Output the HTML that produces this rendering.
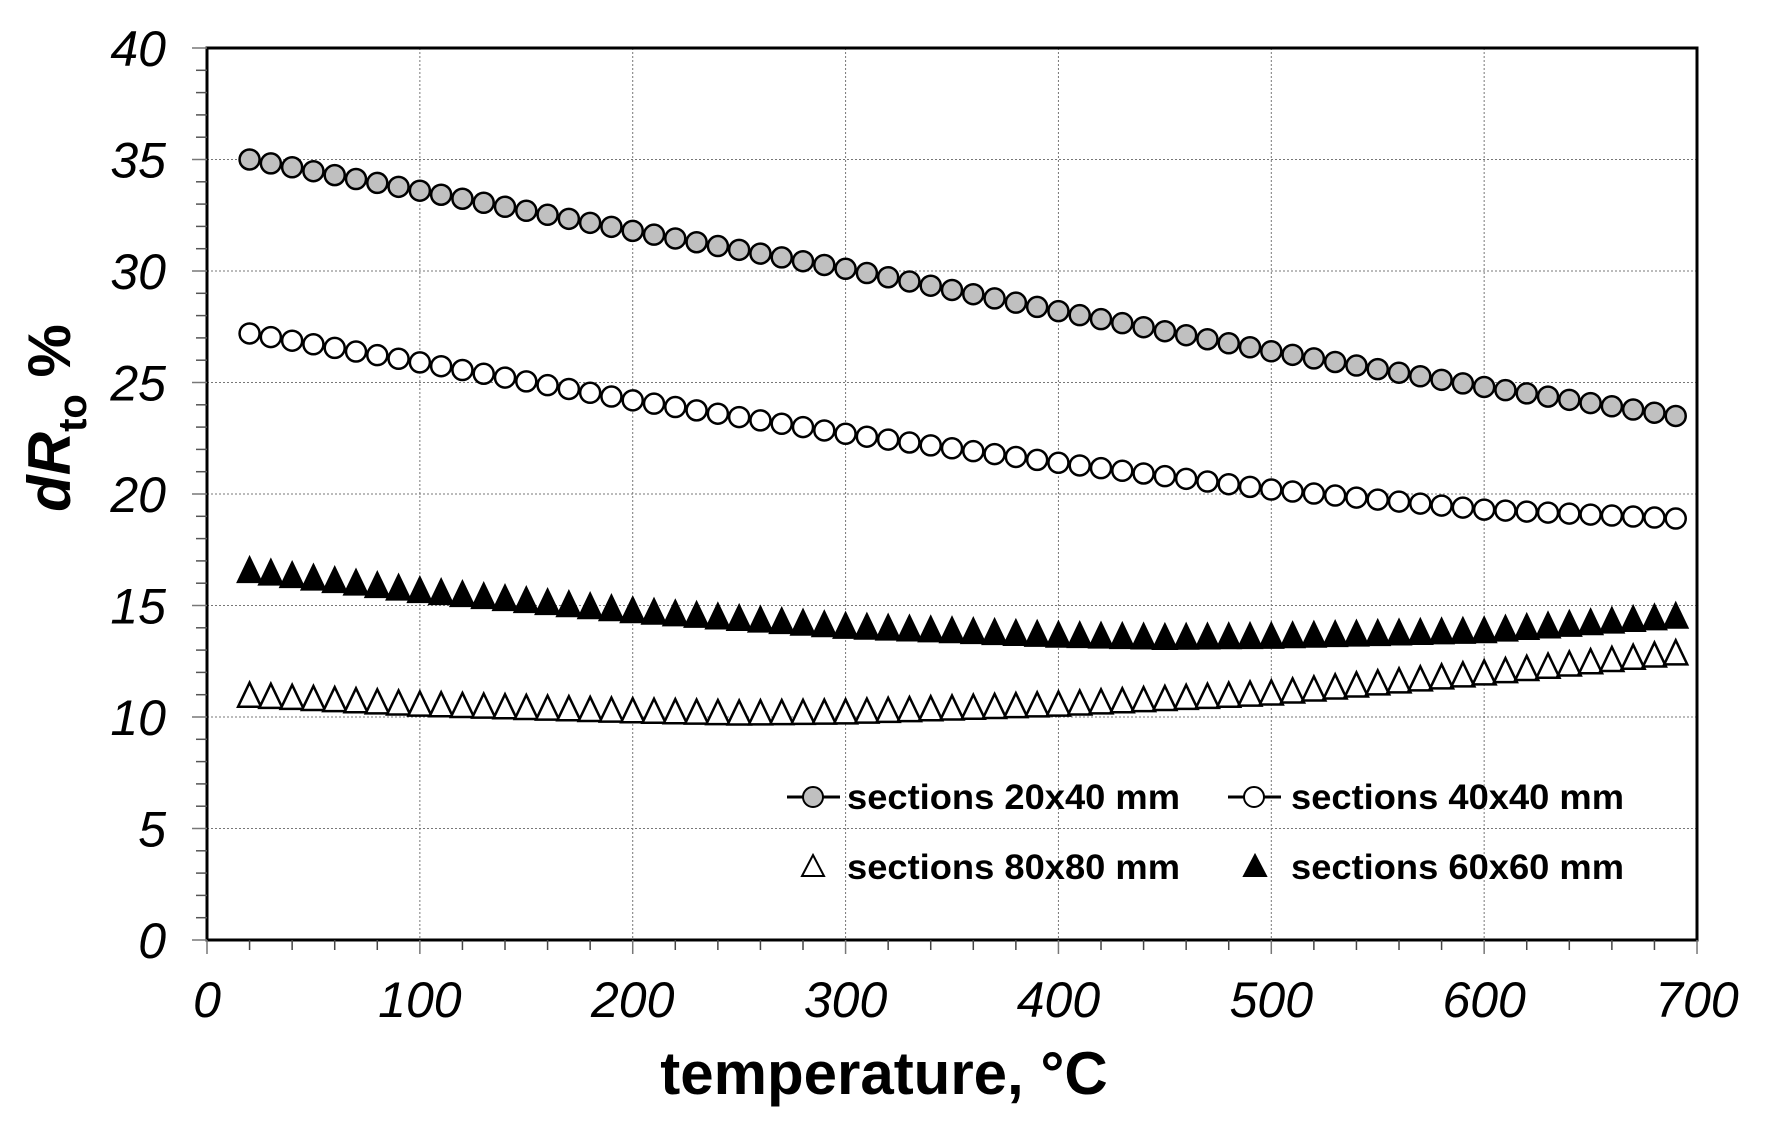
<!DOCTYPE html>
<html><head><meta charset="utf-8"><style>
html,body{margin:0;padding:0;background:#fff;}
svg{display:block;}
</style></head><body>
<svg id="s" width="1770" height="1140" xmlns="http://www.w3.org/2000/svg" font-family="Liberation Sans, Arial, sans-serif">
<rect width="1770" height="1140" fill="#fff"/>
<g id="grid"></g>
<g id="data"></g>
<rect x="207" y="48" width="1490" height="892" fill="none" stroke="#000" stroke-width="3"/>
<g id="ticks"></g>
<g font-size="50" font-style="italic" id="lbl"></g>
<text x="0" y="0" font-size="60" font-weight="bold" font-style="italic" transform="translate(70,418) rotate(-90)" text-anchor="middle">dR<tspan font-size="40" font-style="normal" dy="16">to</tspan><tspan dy="-16" font-style="normal"> %</tspan></text>
<text x="884" y="1094" font-size="60" font-weight="bold" text-anchor="middle">temperature, °C</text>
<!-- legend -->
<line x1="787" y1="797" x2="840" y2="797" stroke="#000" stroke-width="3"/>
<circle cx="813" cy="797" r="10" fill="#c0c0c0" stroke="#000" stroke-width="2"/>
<text x="847" y="809" font-size="35" font-weight="bold" textLength="333" lengthAdjust="spacingAndGlyphs">sections 20x40 mm</text>
<line x1="1228" y1="797" x2="1281" y2="797" stroke="#000" stroke-width="3"/>
<circle cx="1254" cy="797" r="10" fill="#fff" stroke="#000" stroke-width="2"/>
<text x="1291" y="809" font-size="35" font-weight="bold" textLength="333" lengthAdjust="spacingAndGlyphs">sections 40x40 mm</text>
<polygon points="813,855 824,876 802,876" fill="#fff" stroke="#000" stroke-width="2"/>
<text x="847" y="879" font-size="35" font-weight="bold" textLength="333" lengthAdjust="spacingAndGlyphs">sections 80x80 mm</text>
<polygon points="1255,855 1266,876 1244,876" fill="#000" stroke="#000" stroke-width="2"/>
<text x="1291" y="879" font-size="35" font-weight="bold" textLength="333" lengthAdjust="spacingAndGlyphs">sections 60x60 mm</text>
</svg>
<script>
var NS="http://www.w3.org/2000/svg";
function X(v){return 207+v*2.1286;}
function Y(v){return 940-v*22.3;}
function el(p,t,a){var e=document.createElementNS(NS,t);for(var k in a)e.setAttribute(k,a[k]);p.appendChild(e);return e;}
var grid=document.getElementById('grid'),ticks=document.getElementById('ticks'),lbl=document.getElementById('lbl'),data=document.getElementById('data');
for(var v=5;v<40;v+=5)el(grid,'line',{x1:207,x2:1697,y1:Y(v),y2:Y(v),stroke:'#777','stroke-width':1,'stroke-dasharray':'2,2'});
for(var v=100;v<700;v+=100)el(grid,'line',{y1:48,y2:940,x1:X(v),x2:X(v),stroke:'#777','stroke-width':1,'stroke-dasharray':'2,2'});
for(var v=0;v<=40;v++){var m=v%5==0;el(ticks,'line',{x1:m?192:196,x2:207,y1:Y(v),y2:Y(v),stroke:m?'#777':'#555','stroke-width':1.5});}
for(var v=0;v<=700;v+=20){var m=v%100==0;el(ticks,'line',{y1:940,y2:m?954:950,x1:X(v),x2:X(v),stroke:m?'#777':'#444','stroke-width':1.5});}
for(var v=0;v<=40;v+=5){var t=el(lbl,'text',{x:166,y:Y(v)+18,'text-anchor':'end'});t.textContent=v;}
for(var v=0;v<=700;v+=100){var t=el(lbl,'text',{x:X(v),y:1017,'text-anchor':'middle'});t.textContent=v;}
function interp(pts,x){for(var i=0;i<pts.length-1;i++){if(x<=pts[i+1][0]){var a=pts[i],b=pts[i+1];return a[1]+(b[1]-a[1])*(x-a[0])/(b[0]-a[0]);}}return pts[pts.length-1][1];}
var s1=[[20,35.0],[100,33.6],[200,31.8],[300,30.1],[400,28.2],[500,26.4],[600,24.8],[690,23.5]];
var s2=[[20,27.2],[100,25.9],[200,24.2],[300,22.7],[400,21.4],[500,20.2],[600,19.3],[690,18.9]];
var s3=[[20,16.6],[100,15.7],[200,14.8],[300,14.1],[400,13.7],[450,13.6],[500,13.65],[600,13.9],[690,14.55]];
var s4=[[20,11.0],[100,10.6],[200,10.3],[250,10.2],[300,10.25],[400,10.6],[500,11.1],[600,12.0],[690,12.9]];
function tri(fill,pts){for(var x=20;x<=690;x+=10){var cx=X(x),cy=Y(interp(pts,x));el(data,'polygon',{points:cx+','+(cy-12)+' '+(cx+11.5)+','+(cy+12)+' '+(cx-11.5)+','+(cy+12),fill:fill,stroke:'#000','stroke-width':2.5});}}
function circ(fill,pts){for(var x=20;x<=690;x+=10){el(data,'circle',{cx:X(x),cy:Y(interp(pts,x)),r:10,fill:fill,stroke:'#000','stroke-width':2.5});}}
tri('#fff',s4);tri('#000',s3);circ('#fff',s2);circ('#c0c0c0',s1);
</script>
</body></html>
